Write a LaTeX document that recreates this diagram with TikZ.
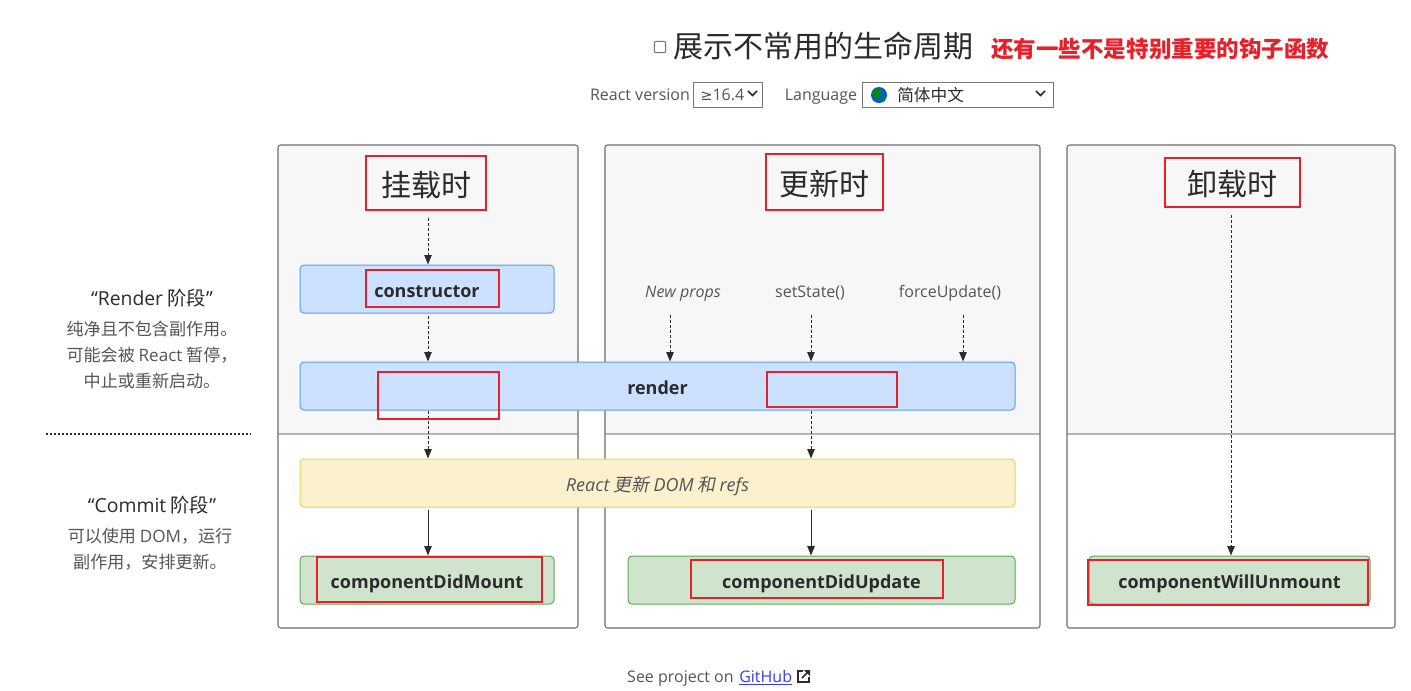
\documentclass[tikz,border=0pt]{standalone}
\usepackage{fontspec}
\setmainfont{Noto Sans CJK SC}[ItalicFont={Noto Sans CJK SC},ItalicFeatures={FakeSlant=0.2}]
\newfontfamily\lat{Open Sans}
\newfontfamily\djv{DejaVu Sans}
\usetikzlibrary{arrows.meta}
\definecolor{txt}{HTML}{2B2B2B}
\definecolor{soft}{HTML}{555555}
\definecolor{hl}{HTML}{E8202A}
\definecolor{panelbg}{HTML}{F7F7F7}
\definecolor{panelline}{HTML}{6E6E6E}
\definecolor{divline}{HTML}{B4B4B4}
\definecolor{bluefill}{HTML}{CCE0FF}
\definecolor{blueline}{HTML}{5A9CF8}
\definecolor{yelfill}{HTML}{FCF0CD}
\definecolor{yelline}{HTML}{F6CB5E}
\definecolor{grnfill}{HTML}{CFE3CD}
\definecolor{grnline}{HTML}{5DAA54}
\definecolor{selline}{HTML}{767676}
\definecolor{link}{HTML}{3B3BF0}
\tikzset{
  panelborder/.style={draw=panelline,line width=0.8pt,rounded corners=2pt},
  lifebox/.style={rounded corners=3pt,line width=0.75pt,minimum height=36pt,inner sep=0pt,text height=12pt,text depth=0pt,text=txt,font=\lat\bfseries\fontsize{13.5}{16}\selectfont},
  bluebox/.style={lifebox,draw=blueline,fill=bluefill},
  yelbox/.style={lifebox,draw=yelline,fill=yelfill,font=\fontsize{13.5}{16}\selectfont\itshape,text=soft},
  grnbox/.style={lifebox,draw=grnline,fill=grnfill},
  titlebox/.style={draw=hl,line width=2.2pt,inner sep=0pt,text height=19.5pt,text depth=0pt,text=txt,font=\fontsize{22.5}{26}\selectfont},
  hlmark/.style={draw=hl,line width=2.2pt,fill=none,inner sep=0pt},
  darr/.style={draw=txt,line width=0.75pt,dash pattern=on 2.25pt off 1.5pt,-{Triangle[length=7pt,width=5.5pt]}},
  sarr/.style={draw=txt,line width=0.75pt,-{Triangle[length=7pt,width=5.5pt]}},
  trig/.style={anchor=base,text=soft,font=\lat\fontsize{12}{14}\selectfont},
  phase/.style={text=txt,font=\fontsize{14.5}{17}\selectfont},
  phasedesc/.style={text=soft,align=center,font=\fontsize{12.8}{19.2}\selectfont},
  lbl/.style={anchor=base,text=soft,font=\lat\fontsize{12}{14}\selectfont},
}
\begin{document}
\begin{tikzpicture}[x=0.75pt,y=-0.75pt]
\useasboundingbox[fill=white] (0,0) rectangle (1411,690);

% ---------- header ----------
\node[draw=selline,line width=0.75pt,rounded corners=1.5pt,minimum width=8.5pt,minimum height=8.5pt,inner sep=0pt] (cb) at (660,47) {};
\node[anchor=west,text=txt,font=\fontsize{22.5}{26}\selectfont,inner sep=0pt] (showall) at (673,46) {展示不常用的生命周期};
\node[anchor=west,text=hl,font=\bfseries\fontsize{16.9}{20}\selectfont,inner sep=0pt] (note) at (991,49) {还有一些不是特别重要的钩子函数};

\node[lbl] (rv) at (640,100) {React version};
\node[draw=selline,line width=0.75pt,minimum width=51.75pt,minimum height=18.75pt,inner sep=0pt] (sel1) at (727.5,94.5) {};
\node[lbl,anchor=base west,inner sep=0pt] (ver) at (700,100) {{\djv\fontsize{11}{14}\selectfont ≥}16.4};
\draw[txt,line width=1.3pt] (748,91) -- (752.5,95.5) -- (757,91);
\node[lbl] (lang) at (821,100) {Language};
\node[draw=selline,line width=0.75pt,minimum width=143.25pt,minimum height=18.75pt,inner sep=0pt] (sel2) at (957.5,94.5) {};
\node[circle,fill=blue!45!cyan!70!black,minimum size=12pt,inner sep=0pt] (globe) at (879,95) {};
\fill[green!55!black] (874,90) .. controls (879,88) and (882,92) .. (880,96) .. controls (878,100) and (875,99) .. (874,95) -- cycle;
\fill[green!55!black] (882,98) .. controls (885,97) and (886,100) .. (884,102) -- cycle;
\node[anchor=west,text=txt,font=\fontsize{12.5}{14}\selectfont,inner sep=0pt] (zh) at (897,95) {简体中文};
\draw[txt,line width=1.3pt] (1036,91) -- (1040.5,95.5) -- (1045,91);

% ---------- panels ----------
\foreach \xa/\xb in {278/578,605/1040,1067/1395}{
  \fill[panelbg] (\xa,434) [rounded corners=2pt] |- (\xa+10,145) -| (\xb,434) [sharp corners] -- cycle;
  \draw[divline,line width=0.8pt] (\xa,434) -- (\xb,434);
  \draw[panelborder] (\xa,145) rectangle (\xb,628);
}

% ---------- left phase labels ----------
\node[phase] (rp) at (152,298) {{\lat “Render} 阶段{\lat ”}};
\node[phasedesc] (rpd) at (152,355) {纯净且不包含副作用。\\可能会被 {\lat React} 暂停，\\中止或重新启动。};
\draw[txt,line width=1.5pt,dash pattern=on 1.5pt off 1.5pt] (46,434) -- (251,434);
\node[phase] (cp) at (152,505) {{\lat “Commit} 阶段{\lat ”}};
\node[phasedesc] (cpd) at (150,549) {可以使用 {\lat DOM}，运行\\副作用，安排更新。};

% ---------- titles ----------
\node[titlebox,minimum width=90pt,minimum height=40.5pt] (t1) at (426,183) {挂载时};
\node[titlebox,minimum width=87.75pt,minimum height=42pt] (t2) at (824.5,182) {更新时};
\node[titlebox,minimum width=101.25pt,minimum height=36.75pt] (t3) at (1232.5,182.5) {卸载时};

% ---------- boxes ----------
\node[bluebox,minimum width=190.5pt] (ctor) at (427,289) {constructor};
\node[bluebox,minimum width=536.25pt] (render) at (657.5,386) {render};
\node[yelbox,minimum width=536.25pt] (dom) at (657.5,483) {{\lat React} 更新 {\lat DOM} 和 {\lat refs}};
\node[grnbox,minimum width=190.5pt] (cdm) at (427,580) {componentDidMount};
\node[grnbox,minimum width=290.25pt] (cdu) at (821.5,580) {componentDidUpdate};
\node[grnbox,minimum width=210.75pt] (cwu) at (1229.5,580) {componentWillUnmount};

% update triggers
\node[trig,font=\lat\itshape\fontsize{12}{14}\selectfont] (np) at (683,297) {New props};
\node[trig] (ss) at (810,297) {setState()};
\node[trig] (fu) at (950,297) {forceUpdate()};

% column coordinates
\coordinate (colA) at (428,0);
\coordinate (colB) at (811,0);
\coordinate (colC) at (1231,0);
\coordinate (npA) at (670,315);
\coordinate (ssA) at (811,315);
\coordinate (fuA) at (963,315);

% ---------- connectors ----------
\draw[darr,shorten <=5.25pt] (t1.south -| colA) -- (ctor.north -| colA);
\draw[darr,shorten <=2pt] (ctor.south -| colA) -- (render.north -| colA);
\draw[darr] (npA) -- (npA |- render.north);
\draw[darr] (ssA) -- (ssA |- render.north);
\draw[darr] (fuA) -- (fuA |- render.north);
\draw[darr] (render.south -| colA) -- (dom.north -| colA);
\draw[darr] (render.south -| colB) -- (dom.north -| colB);
\draw[sarr,shorten <=1.5pt] (dom.south -| colA) -- (cdm.north -| colA);
\draw[sarr,shorten <=1.5pt] (dom.south -| colB) -- (cdu.north -| colB);
\draw[darr,shorten <=5.25pt] (t3.south -| colC) -- (cwu.north -| colC);

% ---------- red highlight marks ----------
\node[hlmark,minimum width=99.75pt,minimum height=27.75pt] (m1) at (432.5,288.5) {};
\node[hlmark,minimum width=90.75pt,minimum height=35.25pt] (m2) at (438.5,395.5) {};
\node[hlmark,minimum width=97.5pt,minimum height=26.25pt] (m3) at (832,389.5) {};
\node[hlmark,minimum width=168.75pt,minimum height=33.75pt] (m4) at (429.5,579.5) {};
\node[hlmark,minimum width=189pt,minimum height=28.5pt] (m5) at (817,579) {};
\node[hlmark,minimum width=210pt,minimum height=33.75pt] (m6) at (1228,582.5) {};

% ---------- footer ----------
\node[lbl,anchor=base east,inner sep=0pt] (see) at (734,682) {See project on};
\node[anchor=base west,inner sep=0pt,text=link,font=\lat\fontsize{12}{14}\selectfont] (gh) at (739,682) {\underline{GitHub}};
\draw[txt,line width=1.1pt] (803,671) -- (798,671) -- (798,682) -- (809,682) -- (809,677);
\draw[txt,line width=1.1pt] (802,678) -- (809,671);
\fill[txt] (804,670) -- (810,670) -- (810,676) -- cycle;
\end{tikzpicture}
\end{document}
